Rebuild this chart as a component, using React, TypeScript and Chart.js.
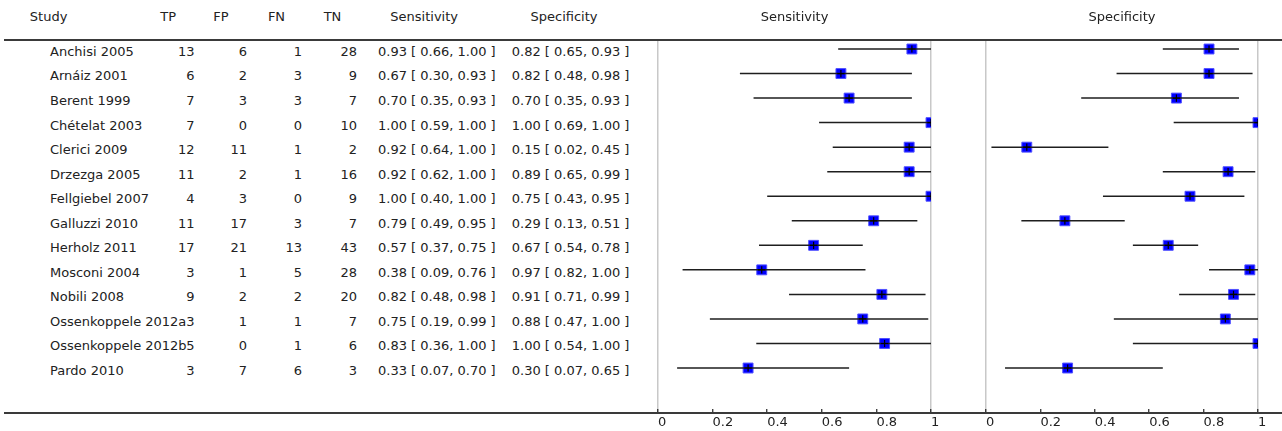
import React, { useEffect, useRef } from 'react';
import { Chart, registerables } from 'chart.js';

Chart.register(...registerables);
Chart.defaults.font.family = '"DejaVu Sans"';

// ---------- data ----------
const studies = [
  'Anchisi 2005', 'Arnáiz 2001', 'Berent 1999', 'Chételat 2003', 'Clerici 2009',
  'Drzezga 2005', 'Fellgiebel 2007', 'Galluzzi 2010', 'Herholz 2011', 'Mosconi 2004',
  'Nobili 2008', 'Ossenkoppele 2012a', 'Ossenkoppele 2012b', 'Pardo 2010',
];
const tp = [13, 6, 7, 7, 12, 11, 4, 11, 17, 3, 9, 3, 5, 3];
const fp = [6, 2, 3, 0, 11, 2, 3, 17, 21, 1, 2, 1, 0, 7];
const fn = [1, 3, 3, 0, 1, 1, 0, 3, 13, 5, 2, 1, 1, 6];
const tn = [28, 9, 7, 10, 2, 16, 9, 7, 43, 28, 20, 7, 6, 3];
const sens = [0.93, 0.67, 0.7, 1.0, 0.92, 0.92, 1.0, 0.79, 0.57, 0.38, 0.82, 0.75, 0.83, 0.33];
const sensLo = [0.66, 0.3, 0.35, 0.59, 0.64, 0.62, 0.4, 0.49, 0.37, 0.09, 0.48, 0.19, 0.36, 0.07];
const sensHi = [1.0, 0.93, 0.93, 1.0, 1.0, 1.0, 1.0, 0.95, 0.75, 0.76, 0.98, 0.99, 1.0, 0.7];
const spec = [0.82, 0.82, 0.7, 1.0, 0.15, 0.89, 0.75, 0.29, 0.67, 0.97, 0.91, 0.88, 1.0, 0.3];
const specLo = [0.65, 0.48, 0.35, 0.69, 0.02, 0.65, 0.43, 0.13, 0.54, 0.82, 0.71, 0.47, 0.54, 0.07];
const specHi = [0.93, 0.98, 0.93, 1.0, 0.45, 0.99, 0.95, 0.51, 0.78, 1.0, 0.99, 1.0, 1.0, 0.65];
const headers = ['Study', 'TP', 'FP', 'FN', 'TN', 'Sensitivity', 'Specificity'];
const axisTicks = [0, 0.2, 0.4, 0.6, 0.8, 1];

// ---------- helpers ----------
const FONT = '"DejaVu Sans"';
const TEXT = '#222';
const fmtCI = (v: number, lo: number, hi: number) =>
  `${v.toFixed(2)} [ ${lo.toFixed(2)}, ${hi.toFixed(2)} ]`;

type Align = 'left' | 'right' | 'center';
function Txt({ x, y, align, children }: { x: number; y: number; align: Align; children: any }) {
  const style: any = {
    position: 'absolute',
    top: y,
    whiteSpace: 'nowrap',
    lineHeight: '16px',
    fontSize: 13,
    fontFamily: FONT,
    color: TEXT,
  };
  if (align === 'left') style.left = x;
  else if (align === 'right') {
    style.left = x - 100;
    style.width = 100;
    style.textAlign = 'right';
  } else {
    style.left = x - 70;
    style.width = 140;
    style.textAlign = 'center';
  }
  return <div style={style}>{children}</div>;
}

function ForestPanel(props: {
  title: string; est: number[]; lo: number[]; hi: number[];
  left: number; width: number; padL: number; padR: number;
}) {
  const ref = useRef<HTMLCanvasElement>(null);
  useEffect(() => {
    const { title, est, lo, hi, padL, padR } = props;
    const squares: any = {
      data: est.map((e, i) => ({ x: e, y: i })),
      pointStyle: 'rect',
      pointRadius: 7,
      backgroundColor: '#0000ff',
      borderColor: '#5050ff',
      borderWidth: 1,
      clip: 0,
      order: 2,
    };
    const ciSets: any[] = est.map((e, i) => ({
      data: [{ x: lo[i], y: i }, { x: e, y: i }, { x: hi[i], y: i }],
      showLine: true,
      borderColor: '#1e1e1e',
      borderWidth: 1.5,
      pointStyle: 'cross',
      pointRadius: (c: any) => (c.dataIndex === 1 ? 3.6 : 0),
      pointBorderColor: '#000',
      pointBackgroundColor: '#000',
      pointBorderWidth: 1.2,
      clip: 0,
      order: 1,
    }));
    const chart = new Chart(ref.current as HTMLCanvasElement, {
      type: 'scatter',
      data: { datasets: [squares, ...ciSets] },
      options: {
        animation: false,
        responsive: true,
        maintainAspectRatio: false,
        events: [],
        layout: { padding: { left: padL, right: padR, top: 0, bottom: 0 } },
        plugins: {
          legend: { display: false },
          tooltip: { enabled: false },
          title: {
            display: true,
            text: title,
            color: TEXT,
            font: { family: FONT, size: 13, weight: 'normal', lineHeight: 1.2 },
            padding: { top: 9.4, bottom: 15 },
          },
        },
        scales: {
          x: {
            type: 'linear',
            min: 0,
            max: 1,
            afterBuildTicks: (s: any) => {
              s.ticks = axisTicks.map((v) => ({ value: v }));
            },
            afterFit: (s: any) => {
              s.height = 18;
            },
            border: { display: false },
            grid: {
              color: (c: any) =>
                c.tick && (c.tick.value === 0 || c.tick.value === 1) ? '#c8c8c8' : 'rgba(0,0,0,0)',
              lineWidth: 1.5,
              drawTicks: true,
              tickLength: -4,
              tickColor: '#222',
              tickWidth: 1.2,
            },
            ticks: {
              align: 'start',
              padding: 6,
              color: TEXT,
              font: { family: FONT, size: 13 },
              maxRotation: 0,
              autoSkip: false,
              callback: (v: any) => `${Number(v)}`,
            },
          },
          y: {
            type: 'linear',
            reverse: true,
            min: -0.367,
            max: 14.833,
            display: false,
          },
        },
      } as any,
    });
    return () => chart.destroy();
  }, []);
  return (
    <div style={{ position: 'absolute', left: props.left, top: 0, width: props.width, height: 431 }}>
      <canvas ref={ref} />
    </div>
  );
}

export default function App() {
  const rowTop = (i: number) => 43.94 + 24.54 * i;
  const headTop = 9.44;
  return (
    <div style={{ position: 'absolute', left: 0, top: 0, width: 1282, height: 431, background: '#fff', overflow: 'hidden' }}>
      <ForestPanel title={headers[5]} est={sens} lo={sensLo} hi={sensHi} left={640} width={322} padL={18} padR={31} />
      <ForestPanel title={headers[6]} est={spec} lo={specLo} hi={specHi} left={968} width={314} padL={18} padR={24} />

      <Txt x={29.8} y={headTop} align="left">{headers[0]}</Txt>
      <Txt x={168.2} y={headTop} align="center">{headers[1]}</Txt>
      <Txt x={221} y={headTop} align="center">{headers[2]}</Txt>
      <Txt x={276.5} y={headTop} align="center">{headers[3]}</Txt>
      <Txt x={332.5} y={headTop} align="center">{headers[4]}</Txt>
      <Txt x={424.2} y={headTop} align="center">{headers[5]}</Txt>
      <Txt x={564} y={headTop} align="center">{headers[6]}</Txt>

      {studies.map((s, i) => (
        <React.Fragment key={s}>
          <Txt x={50} y={rowTop(i)} align="left">{s}</Txt>
          <Txt x={194.5} y={rowTop(i)} align="right">{tp[i]}</Txt>
          <Txt x={247} y={rowTop(i)} align="right">{fp[i]}</Txt>
          <Txt x={302} y={rowTop(i)} align="right">{fn[i]}</Txt>
          <Txt x={357} y={rowTop(i)} align="right">{tn[i]}</Txt>
          <Txt x={378} y={rowTop(i)} align="left">{fmtCI(sens[i], sensLo[i], sensHi[i])}</Txt>
          <Txt x={511.8} y={rowTop(i)} align="left">{fmtCI(spec[i], specLo[i], specHi[i])}</Txt>
        </React.Fragment>
      ))}

      <div style={{ position: 'absolute', left: 4, top: 39, width: 1278, height: 2, background: '#3a3a3a', zIndex: 2 }} />
      <div style={{ position: 'absolute', left: 4, top: 412, width: 1278, height: 2, background: '#3a3a3a', zIndex: 2 }} />
    </div>
  );
}
